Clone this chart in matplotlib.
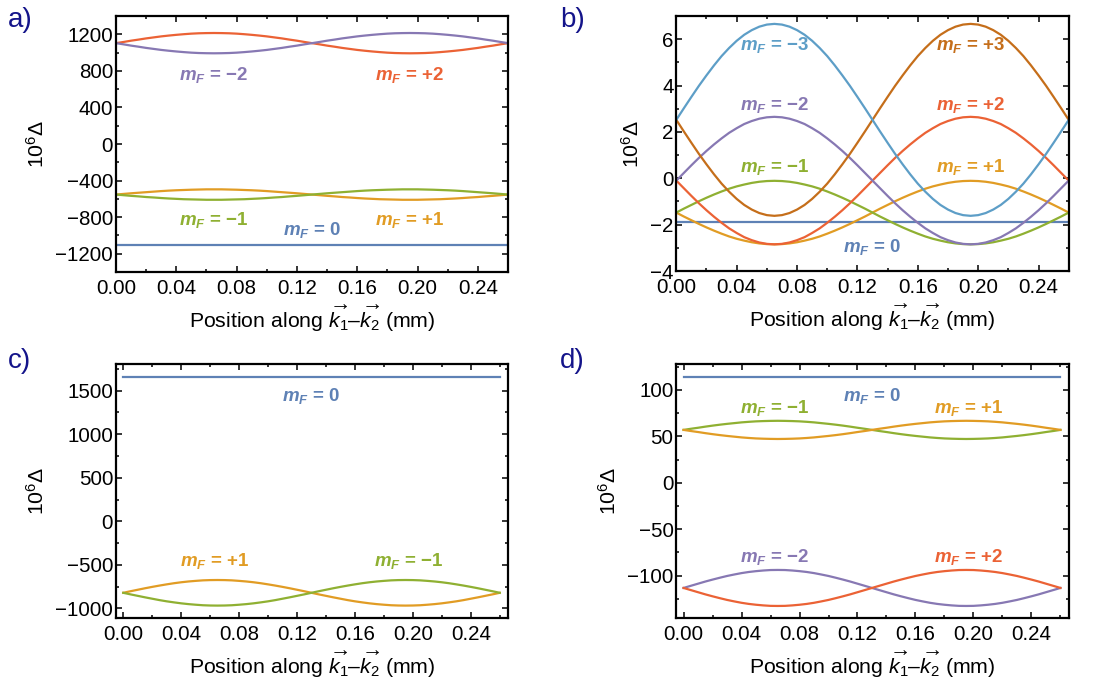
import matplotlib
matplotlib.use('Agg')
import matplotlib.pyplot as plt
from matplotlib.ticker import MultipleLocator

plt.rcParams['font.family'] = ['Liberation Sans', 'DejaVu Sans']
plt.rcParams['mathtext.fontset'] = 'custom'
plt.rcParams['mathtext.rm'] = 'Liberation Sans'
plt.rcParams['mathtext.it'] = 'Liberation Sans:italic'
plt.rcParams['mathtext.bf'] = 'Liberation Sans:bold'
plt.rcParams['mathtext.bfit'] = 'Liberation Sans:italic:bold'

# colours (Mathematica default palette)
c_0 = '#5E81B5'
c_p1 = '#E19C24'
c_m1 = '#8FB032'
c_p2 = '#EB6235'
c_m2 = '#8778B3'
c_p3 = '#C56E1A'
c_m3 = '#5D9EC7'

# position along k1-k2 (mm), read every 0.005
pos = [0.000, 0.005, 0.010, 0.015, 0.020, 0.025, 0.030, 0.035, 0.040, 0.045, 0.050, 0.055, 0.060,
       0.065, 0.070, 0.075, 0.080, 0.085, 0.090, 0.095, 0.100, 0.105, 0.110, 0.115, 0.120, 0.125,
       0.130, 0.135, 0.140, 0.145, 0.150, 0.155, 0.160, 0.165, 0.170, 0.175, 0.180, 0.185, 0.190,
       0.195, 0.200, 0.205, 0.210, 0.215, 0.220, 0.225, 0.230, 0.235, 0.240, 0.245, 0.250, 0.255,
       0.260]
pos_flat = [0.00, 0.26]

# panel a
a_p2 = [1103, 1116, 1130, 1142, 1155, 1166, 1177, 1186, 1194, 1201, 1207, 1211, 1213, 1214,
        1213, 1211, 1207, 1201, 1194, 1186, 1177, 1166, 1155, 1142, 1130, 1116, 1103,
        1090, 1076, 1064, 1051, 1040, 1029, 1020, 1012, 1005, 999, 995, 993, 992,
        993, 995, 999, 1005, 1012, 1020, 1029, 1040, 1051, 1064, 1076, 1090, 1103]
a_m2 = [1103, 1090, 1076, 1064, 1051, 1040, 1029, 1020, 1012, 1005, 999, 995, 993, 992,
        993, 995, 999, 1005, 1012, 1020, 1029, 1040, 1051, 1064, 1076, 1090, 1103,
        1116, 1130, 1142, 1155, 1166, 1177, 1186, 1194, 1201, 1207, 1211, 1213, 1214,
        1213, 1211, 1207, 1201, 1194, 1186, 1177, 1166, 1155, 1142, 1130, 1116, 1103]
a_p1 = [-553, -546, -539, -533, -527, -521, -515, -510, -506, -503, -500, -498, -496, -496,
        -496, -498, -500, -503, -506, -510, -515, -521, -527, -533, -539, -546, -553,
        -560, -567, -573, -580, -585, -591, -596, -600, -604, -606, -608, -610, -610,
        -610, -608, -606, -604, -600, -596, -591, -585, -580, -573, -567, -560, -553]
a_m1 = [-553, -560, -567, -573, -580, -585, -591, -596, -600, -604, -606, -608, -610, -610,
        -610, -608, -606, -604, -600, -596, -591, -585, -580, -573, -567, -560, -553,
        -546, -539, -533, -527, -521, -515, -510, -506, -503, -500, -498, -496, -496,
        -496, -498, -500, -503, -506, -510, -515, -521, -527, -533, -539, -546, -553]
a_0 = [-1105, -1105]

# panel b
b_m3 = [2.52, 3.02, 3.51, 3.99, 4.44, 4.87, 5.27, 5.62, 5.93, 6.19, 6.39, 6.54, 6.63, 6.66,
        6.63, 6.54, 6.39, 6.19, 5.93, 5.62, 5.27, 4.87, 4.44, 3.99, 3.51, 3.02, 2.52,
        2.02, 1.53, 1.05, 0.60, 0.17, -0.23, -0.58, -0.89, -1.15, -1.35, -1.50, -1.59, -1.62,
        -1.59, -1.50, -1.35, -1.15, -0.89, -0.58, -0.23, 0.17, 0.60, 1.05, 1.53, 2.02, 2.52]
b_p3 = [2.52, 2.02, 1.53, 1.05, 0.60, 0.17, -0.23, -0.58, -0.89, -1.15, -1.35, -1.50, -1.59, -1.62,
        -1.59, -1.50, -1.35, -1.15, -0.89, -0.58, -0.23, 0.17, 0.60, 1.05, 1.53, 2.02, 2.52,
        3.02, 3.51, 3.99, 4.44, 4.87, 5.27, 5.62, 5.93, 6.19, 6.39, 6.54, 6.63, 6.66,
        6.63, 6.54, 6.39, 6.19, 5.93, 5.62, 5.27, 4.87, 4.44, 3.99, 3.51, 3.02, 2.52]
b_m2 = [-0.10, 0.23, 0.56, 0.88, 1.18, 1.46, 1.72, 1.96, 2.16, 2.34, 2.47, 2.57, 2.63, 2.65,
        2.63, 2.57, 2.47, 2.34, 2.16, 1.96, 1.72, 1.46, 1.18, 0.88, 0.56, 0.23, -0.10,
        -0.43, -0.76, -1.08, -1.38, -1.66, -1.92, -2.16, -2.36, -2.54, -2.67, -2.77, -2.83, -2.85,
        -2.83, -2.77, -2.67, -2.54, -2.36, -2.16, -1.92, -1.66, -1.38, -1.08, -0.76, -0.43, -0.10]
b_p2 = [-0.10, -0.43, -0.76, -1.08, -1.38, -1.66, -1.92, -2.16, -2.36, -2.54, -2.67, -2.77, -2.83, -2.85,
        -2.83, -2.77, -2.67, -2.54, -2.36, -2.16, -1.92, -1.66, -1.38, -1.08, -0.76, -0.43, -0.10,
        0.23, 0.56, 0.88, 1.18, 1.46, 1.72, 1.96, 2.16, 2.34, 2.47, 2.57, 2.63, 2.65,
        2.63, 2.57, 2.47, 2.34, 2.16, 1.96, 1.72, 1.46, 1.18, 0.88, 0.56, 0.23, -0.10]
b_m1 = [-1.48, -1.31, -1.15, -0.99, -0.84, -0.70, -0.57, -0.45, -0.35, -0.27, -0.20, -0.15, -0.12, -0.11,
        -0.12, -0.15, -0.20, -0.27, -0.35, -0.45, -0.57, -0.70, -0.84, -0.99, -1.15, -1.31, -1.48,
        -1.65, -1.81, -1.97, -2.12, -2.26, -2.39, -2.51, -2.61, -2.69, -2.76, -2.81, -2.84, -2.85,
        -2.84, -2.81, -2.76, -2.69, -2.61, -2.51, -2.39, -2.26, -2.12, -1.97, -1.81, -1.65, -1.48]
b_p1 = [-1.48, -1.65, -1.81, -1.97, -2.12, -2.26, -2.39, -2.51, -2.61, -2.69, -2.76, -2.81, -2.84, -2.85,
        -2.84, -2.81, -2.76, -2.69, -2.61, -2.51, -2.39, -2.26, -2.12, -1.97, -1.81, -1.65, -1.48,
        -1.31, -1.15, -0.99, -0.84, -0.70, -0.57, -0.45, -0.35, -0.27, -0.20, -0.15, -0.12, -0.11,
        -0.12, -0.15, -0.20, -0.27, -0.35, -0.45, -0.57, -0.70, -0.84, -0.99, -1.15, -1.31, -1.48]
b_0 = [-1.88, -1.88]

# panel c
c_p1v = [-822, -804, -787, -770, -754, -739, -725, -712, -701, -692, -685, -679, -676, -675,
         -676, -679, -685, -692, -701, -712, -725, -739, -754, -770, -787, -804, -822,
         -840, -857, -874, -890, -906, -920, -932, -943, -952, -959, -965, -968, -969,
         -968, -965, -959, -952, -943, -932, -920, -906, -890, -874, -857, -840, -822]
c_m1v = [-822, -840, -857, -874, -890, -906, -920, -932, -943, -952, -959, -965, -968, -969,
         -968, -965, -959, -952, -943, -932, -920, -906, -890, -874, -857, -840, -822,
         -804, -787, -770, -754, -739, -725, -712, -701, -692, -685, -679, -676, -675,
         -676, -679, -685, -692, -701, -712, -725, -739, -754, -770, -787, -804, -822]
c_0v = [1661, 1661]

# panel d
d_m1 = [57.0, 58.2, 59.3, 60.5, 61.6, 62.6, 63.5, 64.3, 65.1, 65.7, 66.2, 66.5, 66.7, 66.8,
        66.7, 66.5, 66.2, 65.7, 65.1, 64.3, 63.5, 62.6, 61.6, 60.5, 59.3, 58.2, 57.0,
        55.8, 54.7, 53.5, 52.4, 51.4, 50.5, 49.7, 48.9, 48.3, 47.8, 47.5, 47.3, 47.2,
        47.3, 47.5, 47.8, 48.3, 48.9, 49.7, 50.5, 51.4, 52.4, 53.5, 54.7, 55.8, 57.0]
d_p1 = [57.0, 55.8, 54.7, 53.5, 52.4, 51.4, 50.5, 49.7, 48.9, 48.3, 47.8, 47.5, 47.3, 47.2,
        47.3, 47.5, 47.8, 48.3, 48.9, 49.7, 50.5, 51.4, 52.4, 53.5, 54.7, 55.8, 57.0,
        58.2, 59.3, 60.5, 61.6, 62.6, 63.5, 64.3, 65.1, 65.7, 66.2, 66.5, 66.7, 66.8,
        66.7, 66.5, 66.2, 65.7, 65.1, 64.3, 63.5, 62.6, 61.6, 60.5, 59.3, 58.2, 57.0]
d_m2 = [-113.3, -111.0, -108.7, -106.4, -104.3, -102.3, -100.4, -98.8, -97.3, -96.1, -95.2, -94.5, -94.0, -93.9,
        -94.0, -94.5, -95.2, -96.1, -97.3, -98.8, -100.4, -102.3, -104.3, -106.4, -108.7, -111.0, -113.3,
        -115.6, -117.9, -120.2, -122.3, -124.3, -126.2, -127.8, -129.3, -130.5, -131.4, -132.1, -132.6, -132.7,
        -132.6, -132.1, -131.4, -130.5, -129.3, -127.8, -126.2, -124.3, -122.3, -120.2, -117.9, -115.6, -113.3]
d_p2 = [-113.3, -115.6, -117.9, -120.2, -122.3, -124.3, -126.2, -127.8, -129.3, -130.5, -131.4, -132.1, -132.6, -132.7,
        -132.6, -132.1, -131.4, -130.5, -129.3, -127.8, -126.2, -124.3, -122.3, -120.2, -117.9, -115.6, -113.3,
        -111.0, -108.7, -106.4, -104.3, -102.3, -100.4, -98.8, -97.3, -96.1, -95.2, -94.5, -94.0, -93.9,
        -94.0, -94.5, -95.2, -96.1, -97.3, -98.8, -100.4, -102.3, -104.3, -106.4, -108.7, -111.0, -113.3]
d_0 = [114, 114]

W, H = 1098, 687
fig = plt.figure(figsize=(W / 100, H / 100), dpi=100)


def make_ax(l, r, t, b):
    return fig.add_axes([l / W, 1 - b / H, (r - l) / W, (b - t) / H])


def style(ax, xlim, ylim, ymaj, ymin, ylab_x):
    ax.set_xlim(*xlim)
    ax.set_ylim(*ylim)
    ax.xaxis.set_major_locator(MultipleLocator(0.04))
    ax.xaxis.set_minor_locator(MultipleLocator(0.02))
    ax.yaxis.set_major_locator(MultipleLocator(ymaj))
    ax.yaxis.set_minor_locator(MultipleLocator(ymin))
    ax.xaxis.set_major_formatter(plt.FuncFormatter(lambda v, p: '%.2f' % v))
    ax.tick_params(which='both', direction='in', top=True, right=True, width=1.1, colors='black')
    ax.tick_params(which='major', length=4.5, labelsize=14.8)
    ax.tick_params(which='minor', length=2.3)
    ax.tick_params(axis='y', pad=2)
    ax.tick_params(axis='x', pad=5)
    for s in ax.spines.values():
        s.set_linewidth(1.6)
    ax.set_xlabel(r'Position along $\overrightarrow{k_1}$' + '\u2013' + r'$\overrightarrow{k_2}$ (mm)',
                  fontsize=15.3, labelpad=4)
    ax.set_ylabel(r'$10^6\Delta$', fontsize=15.3)
    ax.yaxis.set_label_coords(ylab_x, 0.5)


def mlabel(ax, x, y, s, col):
    ax.text(x, y, r'$\mathbfit{m}_{\mathbfit{F}}$' + ' = ' + s, color=col, fontsize=13.5,
            fontweight='bold', ha='center', va='center')


lw = 1.6

# a)
ax = make_ax(116, 508, 16, 272)
ax.plot(pos_flat, a_0, color=c_0, lw=lw)
ax.plot(pos, a_p1, color=c_p1, lw=lw)
ax.plot(pos, a_m1, color=c_m1, lw=lw)
ax.plot(pos, a_p2, color=c_p2, lw=lw)
ax.plot(pos, a_m2, color=c_m2, lw=lw)
style(ax, (0, 0.26), (-1400, 1400), 400, 200, -0.175)
mlabel(ax, 0.065, 760, '\u22122', c_m2)
mlabel(ax, 0.195, 760, '+2', c_p2)
mlabel(ax, 0.065, -826, '\u22121', c_m1)
mlabel(ax, 0.195, -826, '+1', c_p1)
mlabel(ax, 0.13, -940, '0', c_0)

# b)
ax = make_ax(676.3, 1068.7, 16, 271)
ax.plot(pos_flat, b_0, color=c_0, lw=lw)
ax.plot(pos, b_p1, color=c_p1, lw=lw)
ax.plot(pos, b_m1, color=c_m1, lw=lw)
ax.plot(pos, b_p2, color=c_p2, lw=lw)
ax.plot(pos, b_m2, color=c_m2, lw=lw)
ax.plot(pos, b_p3, color=c_p3, lw=lw)
ax.plot(pos, b_m3, color=c_m3, lw=lw)
style(ax, (0, 0.26), (-4, 7), 2, 1, -0.085)
mlabel(ax, 0.065, 5.74, '\u22123', c_m3)
mlabel(ax, 0.195, 5.74, '+3', c_p3)
mlabel(ax, 0.065, 3.17, '\u22122', c_m2)
mlabel(ax, 0.195, 3.17, '+2', c_p2)
mlabel(ax, 0.065, 0.49, '\u22121', c_m1)
mlabel(ax, 0.195, 0.49, '+1', c_p1)
mlabel(ax, 0.13, -2.98, '0', c_0)

# c)
ax = make_ax(116, 508, 364, 618.3)
ax.plot(pos_flat, c_0v, color=c_0, lw=lw)
ax.plot(pos, c_p1v, color=c_p1, lw=lw)
ax.plot(pos, c_m1v, color=c_m1, lw=lw)
style(ax, (-0.005, 0.2657), (-1115, 1807), 500, 250, -0.175)
mlabel(ax, 0.13, 1439, '0', c_0)
mlabel(ax, 0.063, -452, '+1', c_p1)
mlabel(ax, 0.197, -452, '\u22121', c_m1)

# d)
ax = make_ax(676.3, 1068.7, 364, 618.3)
ax.plot(pos_flat, d_0, color=c_0, lw=lw)
ax.plot(pos, d_m1, color=c_m1, lw=lw)
ax.plot(pos, d_p1, color=c_p1, lw=lw)
ax.plot(pos, d_m2, color=c_m2, lw=lw)
ax.plot(pos, d_p2, color=c_p2, lw=lw)
style(ax, (-0.005, 0.2657), (-146, 128), 50, 25, -0.145)
mlabel(ax, 0.13, 93.5, '0', c_0)
mlabel(ax, 0.063, 80.3, '\u22121', c_m1)
mlabel(ax, 0.197, 80.3, '+1', c_p1)
mlabel(ax, 0.063, -79.5, '\u22122', c_m2)
mlabel(ax, 0.197, -79.5, '+2', c_p2)

navy = '#14148A'
for lab, x, y in [('a)', 8, 27), ('b)', 560, 27), ('c)', 8, 368), ('d)', 560, 368)]:
    fig.text(x / W, 1 - y / H, lab, fontsize=20, color=navy, va='baseline', ha='left')

fig.savefig('out.png', dpi=100)
